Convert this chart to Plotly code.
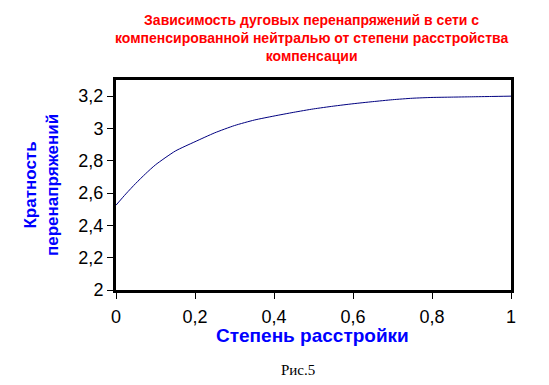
import plotly.graph_objects as go

x_values = [0, 0.025, 0.05, 0.075, 0.1, 0.15, 0.2, 0.25, 0.3, 0.35, 0.4, 0.45,
            0.5, 0.55, 0.6, 0.65, 0.7, 0.75, 0.8, 0.85, 0.9, 0.95, 1.0]
y_values = [2.525, 2.595, 2.66, 2.72, 2.775, 2.86, 2.918, 2.973, 3.018, 3.052,
            3.077, 3.10, 3.121, 3.138, 3.153, 3.166, 3.178, 3.187, 3.192, 3.194,
            3.196, 3.198, 3.20]
x_ticks = [0, 0.2, 0.4, 0.6, 0.8, 1]
y_ticks = [2, 2.2, 2.4, 2.6, 2.8, 3, 3.2]

title_text = ("Зависимость дуговых перенапряжений в сети с<br>"
              "компенсированной нейтралью от степени расстройства<br>"
              "компенсации")
y_title = "Кратность<br>перенапряжений"
x_title = "Степень расстройки"
caption = "Рис.5"

fig = go.Figure(go.Scatter(x=x_values, y=y_values, mode="lines",
                           line=dict(color="#000080", width=1, shape="spline",
                                     smoothing=0.6)))

axis_common = dict(showline=True, linecolor="black", linewidth=3, mirror=True,
                   ticks="outside", ticklen=6, tickwidth=1, tickcolor="black",
                   showgrid=False, zeroline=False,
                   tickfont=dict(family="Liberation Sans, Arial", size=18, color="black"))

L, R, T, B, W, H = 116, 38, 80, 95, 549, 385
plot_w = W - L - R
plot_h = H - T - B


def px_x(px):
    return (px - L) / plot_w


def px_y(py):
    return (H - B - py) / plot_h


fig.update_layout(
    width=W, height=H,
    margin=dict(l=L, r=R, t=T, b=B, autoexpand=False),
    paper_bgcolor="white", plot_bgcolor="white",
    separators=", ",
    showlegend=False,
    xaxis=dict(range=[0, 1], tickvals=x_ticks, ticklabelstandoff=2, **axis_common),
    yaxis=dict(range=[2, 3.3], tickvals=y_ticks, **axis_common),
    annotations=[
        dict(text=title_text, x=px_x(311), y=px_y(38), xref="paper", yref="paper",
             xanchor="center", yanchor="middle", showarrow=False, align="center",
             font=dict(family="Liberation Sans, Arial", size=14, color="red", weight="bold")),
        dict(text=y_title, textangle=-90, x=px_x(41), y=px_y(185),
             xref="paper", yref="paper", xanchor="center", yanchor="middle",
             showarrow=False, align="center",
             font=dict(family="Liberation Sans, Arial", size=17, color="blue", weight="bold")),
        dict(text=x_title, x=px_x(312), y=px_y(335), xref="paper", yref="paper",
             xanchor="center", yanchor="middle", showarrow=False,
             font=dict(family="Liberation Sans, Arial", size=19, color="blue", weight="bold")),
        dict(text=caption, x=px_x(298), y=px_y(370), xref="paper", yref="paper",
             xanchor="center", yanchor="middle", showarrow=False,
             font=dict(family="Liberation Serif, Times New Roman", size=15, color="black")),
    ],
)

fig.write_html("out.html")
